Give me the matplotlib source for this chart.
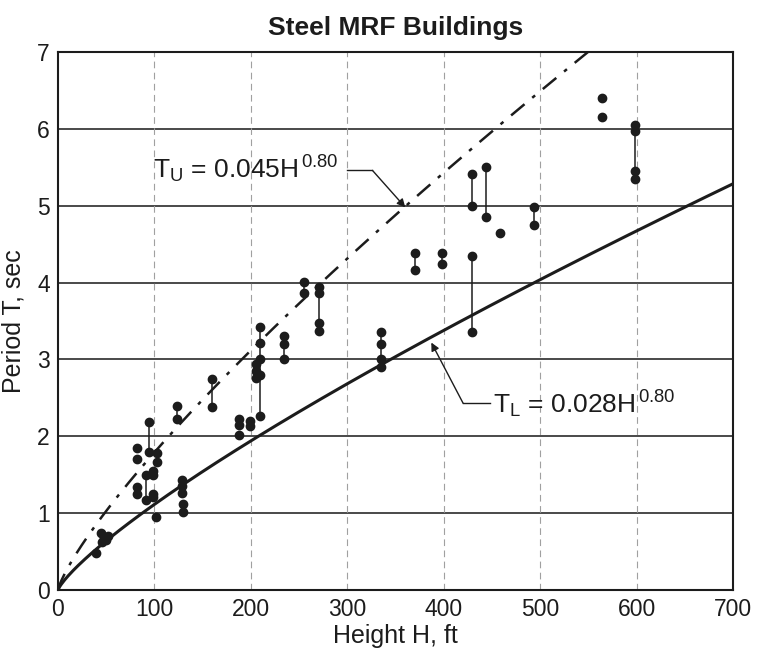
import numpy as np
import matplotlib
matplotlib.use("Agg")
import matplotlib.pyplot as plt

plt.rcParams['font.family'] = ['Liberation Sans', 'DejaVu Sans']
plt.rcParams['mathtext.fontset'] = 'custom'
plt.rcParams['mathtext.rm'] = 'Liberation Sans'
plt.rcParams['mathtext.it'] = 'Liberation Sans'

# measured buildings: height (ft) and period (sec)
pt_H = [39, 45, 46, 48, 50, 52, 82, 82, 82, 82, 91, 91, 94, 94, 98, 98,
        99, 99, 102, 103, 103, 123, 123, 129, 129, 129, 130, 130,
        160, 160, 188, 188, 188, 199, 199, 205, 205, 205, 209, 209, 209,
        209, 209, 234, 234, 234, 255, 255, 271, 271, 271, 271,
        335, 335, 335, 335, 370, 370, 398, 398, 429, 429, 429, 429,
        444, 444, 458, 493, 493, 564, 564, 598, 598, 598, 598]
pt_T = [0.48, 0.74, 0.62, 0.68, 0.65, 0.70, 1.85, 1.71, 1.34, 1.25, 1.50, 1.17,
        2.18, 1.79, 1.55, 1.50, 1.25, 1.21, 0.95, 1.78, 1.66, 2.39, 2.22,
        1.43, 1.36, 1.26, 1.12, 1.01, 2.75, 2.38, 2.22, 2.15, 2.02, 2.20, 2.13,
        2.94, 2.85, 2.76, 3.42, 3.22, 3.00, 2.27, 2.80, 3.30, 3.20, 3.01,
        4.01, 3.86, 3.94, 3.86, 3.48, 3.37, 3.36, 3.20, 3.01, 2.90,
        4.38, 4.17, 4.38, 4.24, 5.41, 5.00, 4.35, 3.36, 5.51, 4.86, 4.65,
        4.99, 4.75, 6.40, 6.15, 6.05, 5.97, 5.45, 5.35]

# vertical bars joining the range of one building
bar_H = [94, 123, 91, 129, 130, 160, 209, 234, 255, 271, 335, 370, 398,
         429, 429, 444, 493, 598]
bar_lo = [1.79, 2.22, 1.17, 1.26, 1.01, 2.38, 2.27, 3.01, 3.86, 3.37, 2.90,
          4.17, 4.24, 5.00, 3.36, 4.86, 4.75, 5.35]
bar_hi = [2.18, 2.39, 1.50, 1.43, 1.12, 2.75, 3.42, 3.30, 4.01, 3.94, 3.36,
          4.38, 4.38, 5.41, 4.35, 5.51, 4.99, 6.05]

x_ticks = [0, 100, 200, 300, 400, 500, 600, 700]
y_ticks = [0, 1, 2, 3, 4, 5, 6, 7]

ink = "#1c1c1c"

fig = plt.figure(figsize=(7.57, 6.58), dpi=100)
ax = fig.add_axes([0.0766, 0.1033, 0.892, 0.8176])

# grid: solid horizontal, faint dashed vertical
for y in y_ticks[1:]:
    ax.axhline(y, color="#3a3a3a", lw=1.3, zorder=1)
for x in x_ticks[1:-1]:
    ax.axvline(x, color="#a0a0a0", lw=0.8, ls=(0, (6, 4)), zorder=1)

H = np.linspace(0, 700, 400)
ax.plot(H, 0.045 * H ** 0.8, color=ink, lw=1.8, ls=(0, (7, 4, 1.5, 4)), zorder=3)
ax.plot(H, 0.028 * H ** 0.8, color=ink, lw=2.2, zorder=3)

ax.vlines(bar_H, bar_lo, bar_hi, color=ink, lw=1.1, zorder=4)
ax.plot(pt_H, pt_T, "o", color=ink, ms=6, zorder=5)

# labels for the two curves
ax.text(98, 5.35, r"T$_\mathrm{U}$ = 0.045H$^{\,0.80}$", fontsize=19,
        color=ink, va="baseline", ha="left")
ax.plot([300, 326], [5.46, 5.46], color=ink, lw=1.0)
ax.annotate("", xy=(360, 4.98), xytext=(326, 5.46),
            arrowprops=dict(arrowstyle="-|>", color=ink, lw=1.0,
                            mutation_scale=12, shrinkA=0, shrinkB=0))

ax.text(451, 2.30, r"T$_\mathrm{L}$ = 0.028H$^{\,0.80}$", fontsize=19,
        color=ink, va="baseline", ha="left")
ax.plot([420, 448], [2.43, 2.43], color=ink, lw=1.0)
ax.annotate("", xy=(387, 3.22), xytext=(420, 2.43),
            arrowprops=dict(arrowstyle="-|>", color=ink, lw=1.0,
                            mutation_scale=12, shrinkA=0, shrinkB=0))

ax.set_xlim(0, 700)
ax.set_ylim(0, 7)
ax.set_xticks(x_ticks)
ax.set_yticks(y_ticks)
ax.tick_params(length=0, labelsize=16.5, colors=ink, pad=6)
for s in ax.spines.values():
    s.set_color(ink)
    s.set_linewidth(1.5)

ax.set_xlabel("Height H, ft", fontsize=18, color=ink, labelpad=2)
ax.set_ylabel("Period T, sec", fontsize=18, color=ink, labelpad=8)
ax.set_title("Steel MRF Buildings", fontsize=19, fontweight="bold",
             color=ink, pad=12)

fig.savefig("out.png", dpi=100, facecolor="white")
